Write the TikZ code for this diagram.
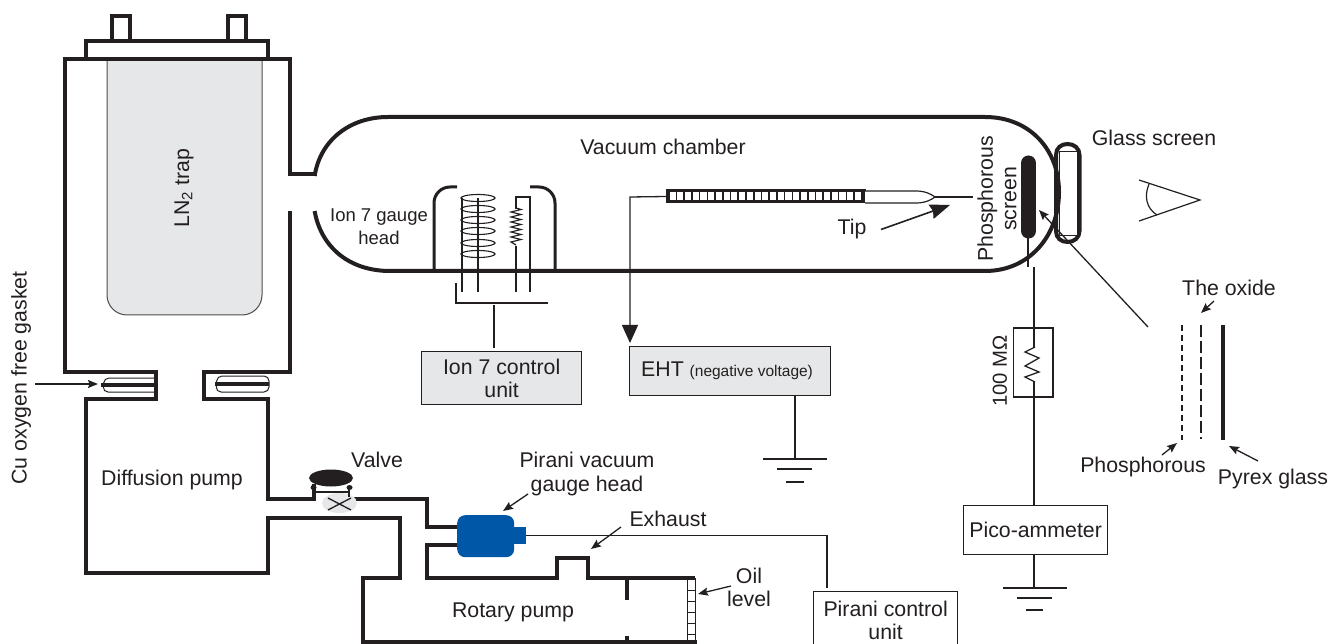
\documentclass[tikz,border=0pt]{standalone}
\usepackage{fontspec}
\setmainfont{Liberation Sans}
\usetikzlibrary{arrows.meta}
\definecolor{ink}{HTML}{231F20}
\definecolor{panel}{HTML}{E6E7E8}
\definecolor{gaugeblue}{HTML}{0057A8}
\tikzset{
  wall/.style={draw=ink,line width=4pt,miter limit=10,line cap=rect},
  wire/.style={draw=ink,line width=1.3pt},
  lab/.style={text=ink,inner sep=0pt,align=center,font=\fontsize{21.3}{23.5}\selectfont},
  smalllab/.style={text=ink,inner sep=0pt,align=center,font=\fontsize{18.5}{23}\selectfont},
  unitbox/.style={draw=ink,line width=1.3pt,fill=panel,inner sep=0pt,align=center,text=ink,font=\fontsize{21.3}{23.5}\selectfont},
  plainbox/.style={draw=ink,line width=1.3pt,fill=white,inner sep=0pt,align=center,text=ink,font=\fontsize{21.3}{23.5}\selectfont},
  note/.style={draw=ink,line width=1.3pt,-{Stealth[length=10pt,width=8pt,inset=1.5pt]}},
  bignote/.style={draw=ink,line width=1.6pt,-{Stealth[length=20pt,width=15pt,inset=2pt]}},
}
\begin{document}
\begin{tikzpicture}[x=1pt,y=-1pt]
\useasboundingbox (0,0) rectangle (1339,644);
% LN2 trap
\path[fill=panel] (107,59) -- (262,59) -- (262,295) arc[start angle=0,end angle=90,radius=20] -- (127,315) arc[start angle=90,end angle=180,radius=20] -- cycle;
\draw[draw=ink!80,line width=1pt] (107,59) -- (107,295) arc[start angle=180,end angle=90,radius=20] -- (242,315) arc[start angle=90,end angle=0,radius=20] -- (262,59);
% top of the trap
\draw[wall] (112,39) -- (112,16) -- (130,16) -- (130,39);
\draw[wall] (228,39) -- (228,16) -- (246,16) -- (246,39);
\draw[wall] (86,58) -- (86,41) -- (268,41) -- (268,58);
% glass screen
\draw[ink,line width=4pt,fill=white] (1056,155) .. controls (1056,148) and (1061,144) .. (1067.5,144) .. controls (1074,144) and (1079.5,148) .. (1079.5,155) -- (1079.5,231) .. controls (1079.5,238) and (1074,242) .. (1067.5,242) .. controls (1061,242) and (1056,238) .. (1056,231) -- cycle;
\draw[ink,line width=1pt,fill=white] (1059.5,152) rectangle (1077,236);
% vacuum walls
\draw[wall] (315,174) -- (290,174) -- (290,59) -- (65,59) -- (65,372) -- (156,372) -- (156,399) -- (86,399) -- (86,573) -- (268,573) -- (268,518) -- (400,518) -- (400,578) -- (363,578) -- (363,642) -- (695,642);
\draw[wall] (693,578) -- (588,578) -- (588,558) -- (557,558) -- (557,578) -- (427,578) -- (427,545) -- (460,545);
\draw[wall] (290,213) -- (290,372) -- (204,372) -- (204,399) -- (268,399) -- (268,499) -- (314,499) -- (314,486);
\draw[wall] (354,499) -- (427,499) -- (427,527) -- (460,527);
% chamber
\draw[wall] (315,174) .. controls (321,140) and (350,117) .. (388,117) -- (985,117) .. controls (1030,117) and (1059,150) .. (1059,192) .. controls (1059,235) and (1030,271) .. (985,271) -- (390,271) .. controls (350,271) and (322,248) .. (315,213);
% gaskets
\draw[ink,line width=1pt,rounded corners=5pt] (154,378) -- (104,378) -- (103,392) -- (154,392);
\draw[ink,line width=3.5pt] (101,385) -- (154,385);
\draw[ink,line width=1pt,rounded corners=5pt] (269,376) -- (217,376) -- (216,392) -- (269,392) -- cycle;
\draw[ink,line width=3.5pt] (215,384) -- (269,384);
\coordinate (gasketIn) at (98,384);
\coordinate (gasketOut) at (35,384);
\draw[note] (gasketOut) -- (gasketIn);
% valve
\path[fill=panel] (339.5,503) ellipse[x radius=17.5,y radius=10];
\draw[ink,line width=1.3pt] (328,510) -- (351,498) (328,498) -- (351,510);
\path[fill=ink] (313.5,487.5) ellipse[x radius=3,y radius=2.5] (349.5,487.5) ellipse[x radius=3,y radius=2.5];
\draw[ink,line width=2pt] (315,492) -- (348,492);
\draw[ink,line width=1.6pt] (349,488) -- (349,497);
\path[fill=ink] (331,478) ellipse[x radius=22,y radius=8.5];
% rotary pump inner
\draw[ink,line width=4pt] (627,578) -- (627,600) (627,636) -- (627,642);
\draw[ink,line width=1pt] (687,578) -- (687,642) (695,578) -- (695,642);
\foreach \yy in {590,601,612,623,634} \draw[ink,line width=1pt] (687,\yy) -- (695,\yy);
% Pirani head
\node[fill=gaugeblue,rounded corners=8pt,minimum width=57pt,minimum height=42pt,inner sep=0pt,anchor=north west] (pirani) at (457,515) {};
\path[fill=gaugeblue] (514,527) rectangle (526,544);
\coordinate (piraniOut) at (526,535.5);
\node[plainbox,minimum width=144pt,minimum height=57pt,anchor=north west] (piraniunit) at (813,591) {Pirani control\\unit};
\coordinate (piraniBend) at (827,535.5);
\draw[wire,shorten >=3pt] (piraniOut) -- (piraniBend) -- (piraniBend |- piraniunit.north);
% Ion gauge
\draw[ink,line width=3pt] (434,271) -- (434,203) arc[start angle=180,end angle=270,radius=16] -- (457,187);
\draw[ink,line width=3pt] (555,271) -- (555,203) arc[start angle=0,end angle=-90,radius=16] -- (530,187);
\foreach \yy in {198,209,220,231,243,254} \draw[ink,line width=1.1pt] (478,\yy) ellipse[x radius=17,y radius=3.5];
\draw[ink,line width=1.2pt] (462,198) -- (462,292) (478,198) -- (478,292);
\draw[ink,line width=1.2pt] (516,292) -- (516,197) -- (530,197) -- (530,292);
\path[fill=white] (510,209) rectangle (522,246);
\draw[ink,line width=1.2pt] (516,208) -- (521,209.5) -- (511,212) -- (521,214.5) -- (511,217) -- (521,219.5) -- (511,222) -- (521,224.5) -- (511,227) -- (521,229.5) -- (511,232) -- (521,234.5) -- (511,237) -- (521,239.5) -- (511,242) -- (516,245);
\draw[wire] (456,283) -- (456,303) -- (548,303);
\node[unitbox,minimum width=160pt,minimum height=53pt,anchor=north west] (ionunit) at (421,351) {Ion 7 control\\unit};
\coordinate (ionbus) at (494,305);
\draw[wire,shorten >=3pt] (ionbus) -- (ionbus |- ionunit.north);
% rod and tip
\path[fill=ink] (666,189) rectangle (865.5,203.5);
\foreach \i in {0,...,24} \path[fill=white] ({669.6+7.72*\i},192.5) rectangle ++(6.1,7.8);
\node[inner sep=0pt,minimum size=0pt] (rod) at (666,196.5) {};
\draw[ink,line width=1.2pt,fill=white] (865,191) -- (916,191) .. controls (925,191) and (931,194) .. (935,197) .. controls (931,200) and (925,203) .. (916,203) -- (865,203);
\node[unitbox,minimum width=201pt,minimum height=49pt,anchor=north west] (eht) at (629,346) {};
\node[text=ink,inner sep=0pt,anchor=base west] at (641,377) {\fontsize{21.3}{23.5}\selectfont EHT \fontsize{15.5}{18}\selectfont(negative voltage)};
\coordinate (ehtBend) at (630,197);
\draw[wire,-{Triangle[length=18pt,width=16pt]}] (rod) -- (ehtBend) -- (630,343);
\coordinate (tipEnd) at (935,197);
\coordinate (tipWire) at (973,197);
\draw[wire] (tipEnd) -- (tipWire);
% grounds
\coordinate (ehtGround) at (795,459);
\draw[wire] (795,395) -- (ehtGround);
\draw[wire] (763,459) -- (827,459) (777,469) -- (812,469) (786,482) -- (804,482);
% phosphor screen
\draw[ink,line width=15pt,line cap=round] (1028.5,163) -- (1028.5,231);
\draw[ink,line width=1.2pt] (1028,238) -- (1028,267);
% pico-ammeter chain
\node[plainbox,minimum width=144pt,minimum height=49pt,anchor=north west] (pico) at (963,505) {Pico-ammeter};
\coordinate (chainTop) at (1034,267);
\draw[wire] (chainTop) -- (1034,347) (1034,382) -- (pico.north -| chainTop);
\draw[ink,line width=1.3pt] (1013.5,328) rectangle (1053,397);
\draw[wire] (1035,347) -- (1025,352) -- (1039,358) -- (1025,366) -- (1039,372) -- (1025,377) -- (1035,382);
\coordinate (picoGround) at (1034,588);
\draw[wire] (pico.south -| chainTop) -- (picoGround);
\draw[wire] (1003,588) -- (1067,588) (1017,598) -- (1052,598) (1026,610) -- (1043,610);
% eye
\draw[ink,line width=1.2pt] (1139,180) -- (1200,200) -- (1139,221);
\draw[ink,line width=1.2pt] (1149,184) .. controls (1144,196) and (1146,208) .. (1157,215);
% detail of the screen
\draw[ink,line width=1.3pt,dash pattern=on 6pt off 4pt] (1182,325) -- (1182,440);
\draw[ink,line width=1.3pt,dash pattern=on 12pt off 4pt] (1201,325) -- (1201,439);
\draw[ink,line width=4.5pt] (1223,325) -- (1223,440);
\coordinate (detailStart) at (1148,327);
\coordinate (detailEnd) at (1039,210);
\draw[note] (detailStart) -- (detailEnd);
% labels and pointers
\node[lab] at (663,147) {Vacuum chamber};
\node[lab] at (1154,138) {Glass screen};
\node[lab,rotate=90] at (997,199) {Phosphorous\\screen};
\node[lab] (tiplab) at (852,229) {Tip};
\coordinate (tipArrow) at (950,205);
\draw[bignote] (881,229.5) -- (tipArrow);
\node[smalllab] at (379,227) {Ion 7 gauge\\head};
\node[lab,rotate=90] at (184,188) {LN\textsubscript{2} trap};
\node[lab,rotate=90] at (21,378) {Cu oxygen free gasket};
\node[lab] at (172,480) {Diffusion pump};
\node[lab] at (377,460) {Valve};
\node[lab] at (587,474) {Pirani vacuum\\gauge head};
\coordinate (piraniArrow) at (503,511);
\draw[note] (528,494) -- (piraniArrow);
\node[lab] at (668,519) {Exhaust};
\coordinate (exhaustArrow) at (591,549);
\draw[note] (621,527) -- (exhaustArrow);
\node[lab] at (513,612) {Rotary pump};
\node[lab] at (749,587.5) {Oil\\level};
\coordinate (oilArrow) at (698,594);
\draw[note] (731,586) -- (oilArrow);
\node[lab,rotate=90,font=\fontsize{20.3}{23}\selectfont] at (1000,371) {100 MΩ};
\node[lab] at (1229,288) {The oxide};
\coordinate (oxideArrow) at (1201,313);
\draw[note] (1214,301) -- (oxideArrow);
\node[lab] at (1143,467) {Phosphorous};
\coordinate (phosArrow) at (1177,443);
\draw[note] (1162,455) -- (phosArrow);
\node[lab] at (1273,479) {Pyrex glass};
\coordinate (pyrexArrow) at (1229,446);
\draw[note] (1258,461) -- (pyrexArrow);
\end{tikzpicture}
\end{document}
